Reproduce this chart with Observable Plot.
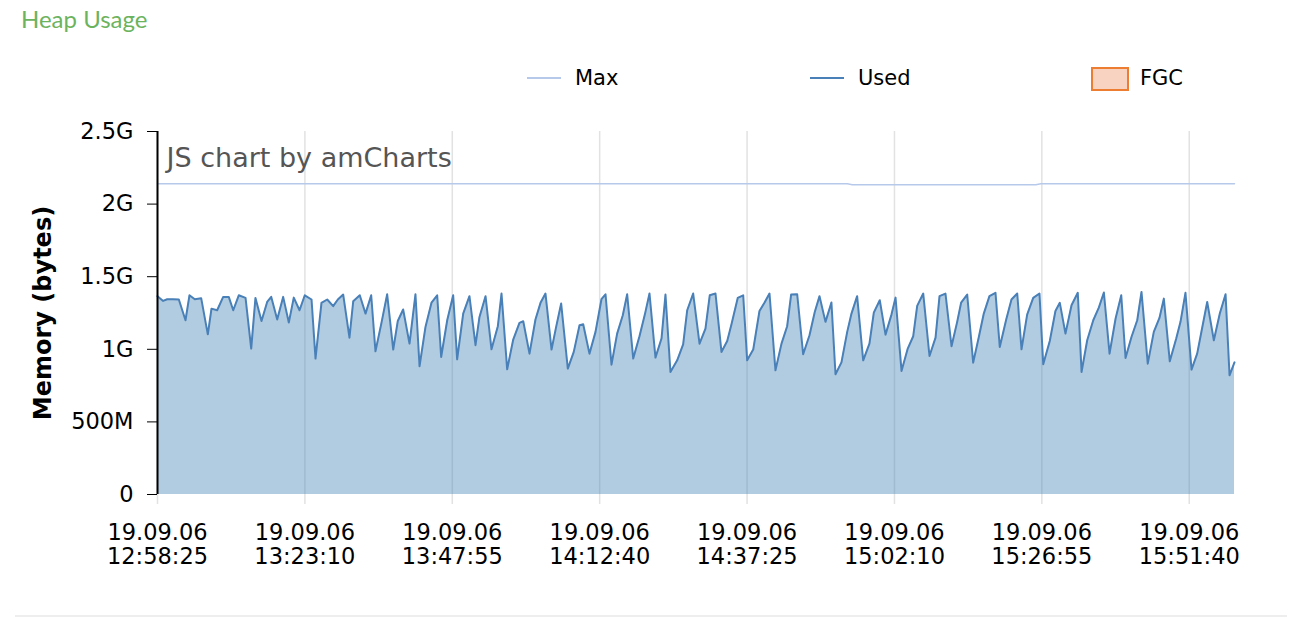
<!DOCTYPE html>
<html><head><meta charset="utf-8">
<script src="https://cdn.jsdelivr.net/npm/d3@7"></script>
<script src="https://cdn.jsdelivr.net/npm/@observablehq/plot@0.6"></script>
<style>
body{margin:0;background:#fff;width:1302px;height:618px;position:relative;overflow:hidden;font-family:"DejaVu Sans",sans-serif}
#title{position:absolute;left:21px;top:4px;font-family:Lato,sans-serif;font-size:24px;color:#6cb35e}
.leg{position:absolute;top:66px;height:24px;display:flex;align-items:center;font-size:21px;color:#000}
.sw{display:inline-block}
#chart{position:absolute;left:0;top:100px}
#sep{position:absolute;left:15px;right:15px;top:615px;border-top:2px solid #eeeeee}
</style></head><body>
<div id="title">Heap Usage</div>
<div id="legend"></div>
<div id="chart"></div>
<div id="sep"></div>
<script>
const startTime = "2019-09-06T12:58:25Z";
// seconds after start, Used heap in G
const usedOffsets = [0,57,98,156,215,282,322,376,440,507,544,601,662,718,763,819,887,944,987,1048,1105,1146,1206,1266,1323,1373,1431,1484,1552,1592,1652,1710,1770,1817,1871,1934,1972,2038,2096,2153,2196,2257,2314,2375,2421,2475,2539,2599,2640,2700,2761,2818,2858,2919,2979,3019,3080,3143,3204,3244,3305,3365,3429,3466,3523,3584,3647,3685,3748,3808,3859,3909,3970,4017,4067,4134,4194,4252,4289,4352,4413,4473,4514,4574,4631,4688,4732,4793,4856,4910,4957,5017,5078,5118,5168,5236,5296,5337,5397,5461,5521,5564,5622,5682,5740,5783,5846,5901,5941,6002,6065,6115,6166,6226,6287,6344,6384,6445,6505,6569,6622,6670,6730,6790,6831,6891,6949,6992,7049,7110,7173,7217,7277,7335,7395,7436,7496,7559,7614,7654,7715,7778,7839,7879,7939,8000,8057,8097,8158,8218,8275,8325,8382,8443,8486,8551,8604,8662,8705,8762,8823,8886,8924,8990,9047,9091,9148,9209,9272,9310,9367,9428,9484,9535,9592,9653,9710,9753,9813,9871,9914,9977,10038,10095,10139,10199,10264,10307,10357,10418,10475,10526,10576,10643,10703,10761,10801,10851];
const usedG = [1.366,1.333,1.345,1.345,1.343,1.200,1.372,1.345,1.352,1.103,1.280,1.269,1.361,1.361,1.269,1.372,1.354,1.005,1.354,1.195,1.326,1.361,1.205,1.361,1.184,1.356,1.269,1.372,1.343,0.936,1.320,1.343,1.297,1.343,1.377,1.080,1.331,1.372,1.246,1.372,0.986,1.184,1.379,0.998,1.195,1.274,1.039,1.379,0.883,1.154,1.322,1.372,0.947,1.200,1.372,0.931,1.246,1.366,1.028,1.223,1.366,1.000,1.159,1.384,0.862,1.067,1.182,1.193,0.970,1.205,1.320,1.384,0.998,1.156,1.315,0.867,0.982,1.166,1.172,0.970,1.120,1.345,1.379,0.894,1.108,1.234,1.379,0.936,1.090,1.239,1.384,0.943,1.074,1.377,0.844,0.924,1.034,1.269,1.384,1.039,1.143,1.372,1.384,0.982,1.057,1.172,1.354,1.372,0.924,0.998,1.264,1.320,1.384,0.855,1.039,1.159,1.377,1.379,0.966,1.097,1.257,1.366,1.189,1.322,0.828,0.910,1.120,1.246,1.366,0.924,1.039,1.253,1.338,1.101,1.239,1.356,0.851,1.005,1.090,1.299,1.384,0.954,1.080,1.366,1.384,1.021,1.189,1.322,1.377,0.908,1.085,1.246,1.366,1.389,1.016,1.205,1.343,1.384,1.000,1.239,1.354,1.384,0.897,1.057,1.264,1.320,1.108,1.303,1.389,0.844,1.062,1.200,1.287,1.391,0.970,1.212,1.372,0.940,1.085,1.200,1.395,0.901,1.120,1.216,1.349,0.917,1.074,1.189,1.389,0.860,0.970,1.150,1.326,1.062,1.246,1.379,0.821,0.910];
const maxOffsets = [0,6950,7000,8850,8900,10851];
const maxG = [2.14,2.14,2.134,2.134,2.14,2.14];
const xTickLabels = ["2019-09-06T12:58:25Z","2019-09-06T13:23:10Z","2019-09-06T13:47:55Z","2019-09-06T14:12:40Z","2019-09-06T14:37:25Z","2019-09-06T15:02:10Z","2019-09-06T15:26:55Z","2019-09-06T15:51:40Z"];
const yTicks = [0,0.5,1,1.5,2,2.5];
const yTickLabels = ["0","500M","1G","1.5G","2G","2.5G"];
const legendNames = ["Max","Used","FGC"];
const legendColors = ["#b7c9ea","#4a80b8","#ed7d31"];

const t0 = new Date(startTime).getTime();
const used = usedOffsets.map((s,i)=>({t:new Date(t0+s*1000), v:usedG[i]}));
const maxS = maxOffsets.map((s,i)=>({t:new Date(t0+s*1000), v:maxG[i]}));
const xTicks = xTickLabels.map(d=>new Date(d));
const fmt = d3.utcFormat("%y.%m.%d\n%H:%M:%S");

// legend
const legPos = [[527,575],[810,858],[1091,1140]];
const lg = document.getElementById("legend");
legendNames.forEach((n,i)=>{
  const sw = document.createElement("div");
  sw.className="leg";
  sw.style.left = legPos[i][0]+"px";
  let inner;
  if (i<2) inner = `<span class="sw" style="width:34px;height:2px;background:${legendColors[i]}"></span>`;
  else inner = `<span class="sw" style="width:34px;height:20px;background:#f9d3c2;border:2px solid ${legendColors[i]};box-sizing:content-box;margin-top:1px"></span>`;
  sw.innerHTML = inner + `<span style="margin-left:${legPos[i][1]-legPos[i][0]-(i<2?34:38)}px">${n}</span>`;
  lg.appendChild(sw);
});

const chart = Plot.plot({
  width:1302, height:500,
  marginLeft:157, marginRight:68, marginTop:31, marginBottom:106,
  style:{fontFamily:"DejaVu Sans", fontSize:"22px", color:"#000", background:"transparent"},
  x:{type:"utc", domain:[used[0].t, used[used.length-1].t]},
  y:{domain:[0,2.5]},
  marks:[
    Plot.ruleX(xTicks, {stroke:"#e2e2e2", strokeWidth:1.5, insetBottom:-10}),
    Plot.areaY(used, {x:"t", y:"v", fill:"#4682b4", fillOpacity:0.42}),
    Plot.lineY(used, {x:"t", y:"v", stroke:legendColors[1], strokeWidth:2}),
    Plot.lineY(maxS, {x:"t", y:"v", stroke:legendColors[0], strokeWidth:1.5}),
    Plot.text(["JS chart by amCharts"], {frameAnchor:"top-left", dx:9, dy:16, fontSize:27, fill:"#555", textAnchor:"start"}),
    Plot.axisY({ticks:yTicks, tickFormat:(d)=>yTickLabels[yTicks.indexOf(d)], tickSize:10, tickPadding:14, tickStrokeWidth:2, label:null, fontSize:22.5}),
    Plot.ruleX([used[0].t], {stroke:"#000", strokeWidth:2}),
    Plot.axisX({ticks:xTicks, tickFormat:fmt, tickSize:0, tickPadding:28, label:null, fontSize:22.5, lineHeight:1.07}),
    Plot.text(["Memory (bytes)"], {frameAnchor:"left", dx:-114, rotate:-90, textAnchor:"middle", fontWeight:"bold", fontSize:24, fill:"#000"})
  ]
});
document.getElementById("chart").appendChild(chart);
</script>
</body></html>
